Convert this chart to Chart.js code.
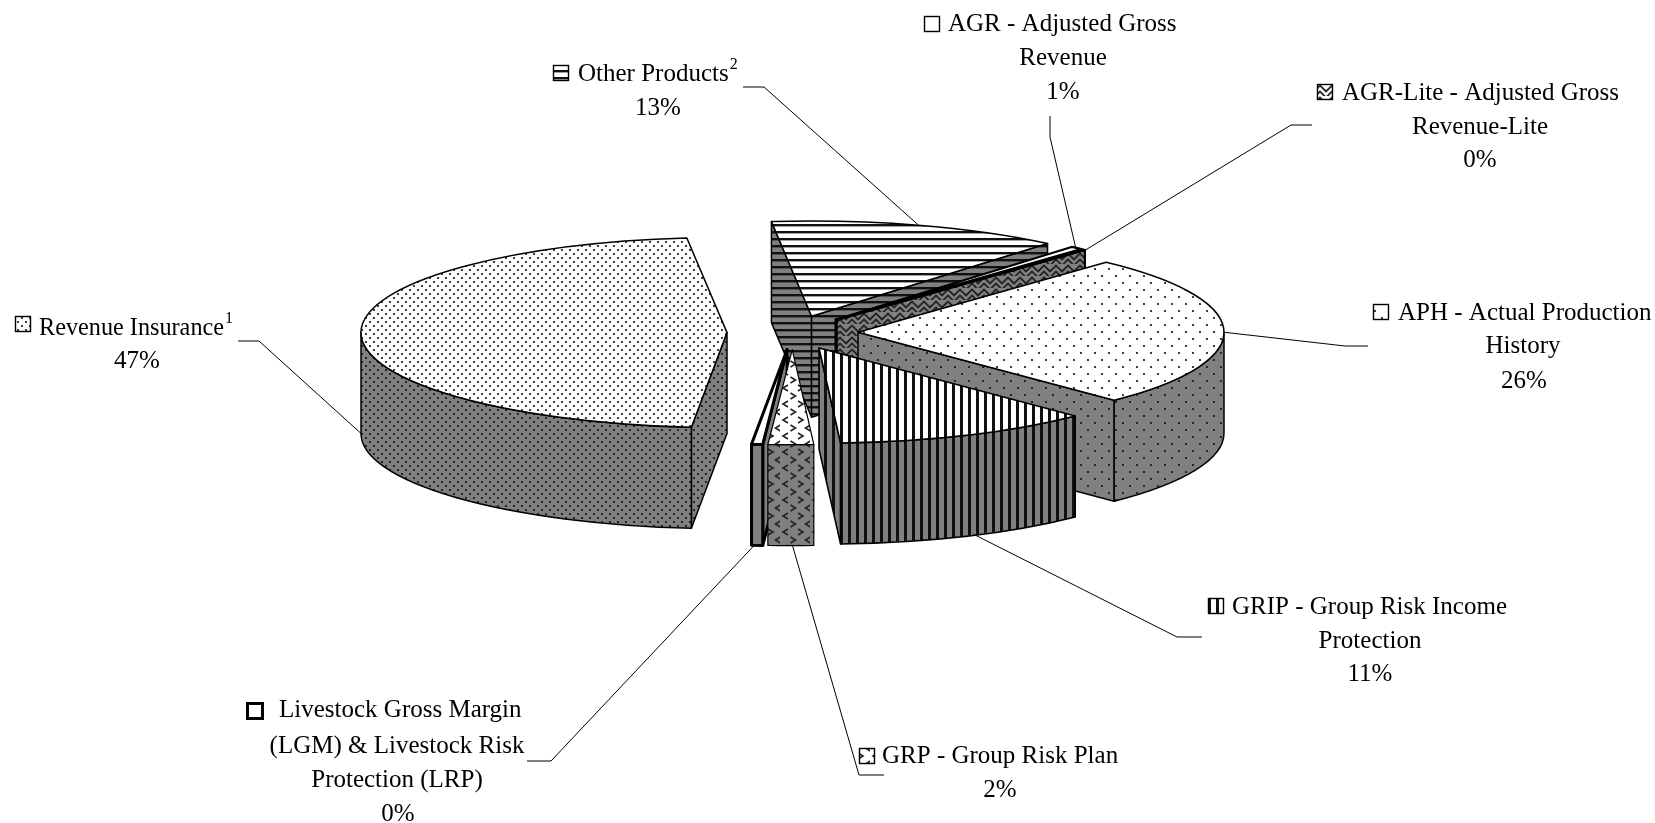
<!DOCTYPE html>
<html>
<head>
<meta charset="utf-8">
<title>Crop insurance plan shares</title>
<script src="https://cdn.jsdelivr.net/npm/chart.js@4/dist/chart.umd.js"></script>
<style>
  html, body { margin: 0; padding: 0; background: #fff; overflow: hidden; }
  canvas { display: block; }
</style>
</head>
<body>
<canvas id="pie" width="1655" height="823"></canvas>
<script>
// Slices, clockwise from the back edge of the APH slice.
const categories = ["APH", "GRIP", "GRP", "LGM", "Revenue Insurance", "Other Products", "AGR", "AGR-Lite"];
const sharePercents = [25.8, 11.4, 2.0, 0.49, 46.7, 12.9, 0.56, 0.15];
const shareLabels = ["26%", "11%", "2%", "0%", "47%", "13%", "1%", "0%"];
const patternKinds = ["sparseDots", "vStripes", "chevrons", "plain", "denseDots", "hStripes", "plain", "weave"];
const outlineWidths = [1.5, 1.6, 1.2, 3, 1.5, 1.5, 2.2, 2.2];

// Projection of the tilted pie.
const SQUASH = 0.26;
const DEPTH = 101;
const RADIUS = 366;
const EXPLODE = 65.5;
const WALL_GREY = "#808080";

// Caption layout: swatch and first line, then centred lines [text, centreX, baseline].
const captionLayouts = [
  { swatch: [1373, 304], textX: 1398, base: 320, first: "APH - Actual Production", more: [["History", 1523, 353]], pctAt: [1524, 388] },
  { swatch: [1208, 598], textX: 1232, base: 614, first: "GRIP - Group Risk Income", more: [["Protection", 1370, 648]], pctAt: [1370, 681] },
  { swatch: [859, 748], textX: 882, base: 763, first: "GRP - Group Risk Plan", more: [], pctAt: [1000, 797] },
  { swatch: [247, 703], textX: 279, base: 717, first: "Livestock Gross Margin", more: [["(LGM) & Livestock Risk", 397, 753], ["Protection (LRP)", 397, 787]], pctAt: [398, 821] },
  { swatch: [15, 316], textX: 39, base: 335, first: "Revenue Insurance", fit: 185, sup: "1", more: [], pctAt: [137, 368] },
  { swatch: [553, 65], textX: 578, base: 81, first: "Other Products", sup: "2", more: [], pctAt: [658, 115] },
  { swatch: [924, 16], textX: 948, base: 31, first: "AGR - Adjusted Gross", more: [["Revenue", 1063, 65]], pctAt: [1063, 99] },
  { swatch: [1317, 84], textX: 1342, base: 100, first: "AGR-Lite - Adjusted Gross", more: [["Revenue-Lite", 1480, 134]], pctAt: [1480, 167] }
];

// Leader lines: caption-side stub, then the rim angle (degrees) and drop on the slice they point to.
const leaderStubs = [
  [[1368, 346], [1345, 346]],
  [[1202, 637], [1177, 637]],
  [[884, 775], [859, 775]],
  [[527, 761], [551, 761]],
  [[238, 341], [259, 341]],
  [[743, 87], [764, 87]],
  [[1050, 116], [1050, 137]],
  [[1312, 125], [1291, 125]]
];
const leaderRimAngles = [0, 65, 90, 95, 176, 287, 311, 312.8];
const leaderRimDrops = [0, 100, 100, 100, 95, 0, 0, 0];

// Fill textures, each built once for the top face and once for the walls.
function makeTexture(kind, bg) {
  const sizes = { sparseDots: [14, 14], denseDots: [8, 8], vStripes: [8, 8], hStripes: [8, 7], chevrons: [30, 16], weave: [12, 12], plain: [4, 4] };
  const [w, h] = sizes[kind];
  const c = document.createElement("canvas");
  c.width = w; c.height = h;
  const g = c.getContext("2d");
  g.fillStyle = bg;
  g.fillRect(0, 0, w, h);
  g.fillStyle = "#111";
  g.strokeStyle = "#222";
  const dot = (x, y, r) => { g.beginPath(); g.arc(x, y, r, 0, 7); g.fill(); };
  if (kind === "sparseDots") { dot(3, 3, 1.1); dot(10, 10, 1.1); }
  if (kind === "denseDots") { dot(2, 2, 1.1); dot(6, 6, 1.1); }
  if (kind === "vStripes") { g.fillRect(0, 0, 3, h); }
  if (kind === "hStripes") { g.fillRect(0, 0, w, 2.4); }
  if (kind === "chevrons") {
    g.lineWidth = 1.6;
    const mark = (x, y, s) => { g.beginPath(); g.moveTo(x + 2.5 * s, y - 3); g.lineTo(x - 2.5 * s, y); g.lineTo(x + 2.5 * s, y + 3); g.stroke(); };
    mark(5.5, 4, 1); mark(20.5, 4, -1); mark(13, 12, -1); mark(28, 12, 1);
  }
  if (kind === "weave") {
    g.lineWidth = 1.8;
    for (const y of [4.5, 10.5]) {
      g.beginPath();
      g.moveTo(-3, y); g.lineTo(0, y - 3); g.lineTo(6, y + 3); g.lineTo(12, y - 3); g.lineTo(15, y);
      g.stroke();
    }
  }
  return g.createPattern(c, "repeat");
}
const topFills = patternKinds.map(k => makeTexture(k, "#fff"));
const wallFills = patternKinds.map(k => makeTexture(k, WALL_GREY));

// Where a slice's apex lands once it is pulled out along its mid angle.
function sliceApex(arc) {
  const mid = (arc.startAngle + arc.endAngle) / 2;
  const off = arc.options.offset;
  return { x: arc.x + Math.cos(mid) * off, y: arc.y + Math.sin(mid) * off * SQUASH };
}

function paintSlice(ctx, arc, i) {
  const a = sliceApex(arc);
  const R = arc.outerRadius, Ry = R * SQUASH;
  const s = arc.startAngle, e = arc.endAngle;
  const rim = t => ({ x: a.x + Math.cos(t) * R, y: a.y + Math.sin(t) * Ry });
  ctx.save();
  ctx.lineJoin = "round";
  ctx.strokeStyle = "#000";
  ctx.lineWidth = arc.options.borderWidth;
  const finish = fill => { ctx.fillStyle = fill; ctx.fill(); ctx.stroke(); };

  // Cut faces: the start face shows on the left half, the end face on the right.
  const cutFace = t => {
    const p = rim(t);
    ctx.beginPath();
    ctx.moveTo(a.x, a.y); ctx.lineTo(p.x, p.y);
    ctx.lineTo(p.x, p.y + DEPTH); ctx.lineTo(a.x, a.y + DEPTH);
    ctx.closePath();
    finish(wallFills[i]);
  };
  if (Math.cos(s) < 0) cutFace(s);
  if (Math.cos(e) > 0) cutFace(e);

  // Outer wall: only the part of the rim that faces the viewer.
  const lo = Math.max(s, 0), hi = Math.min(e, Math.PI);
  if (hi > lo) {
    ctx.beginPath();
    ctx.ellipse(a.x, a.y, R, Ry, 0, lo, hi);
    ctx.ellipse(a.x, a.y + DEPTH, R, Ry, 0, hi, lo, true);
    ctx.closePath();
    finish(wallFills[i]);
  }

  // Top face.
  ctx.beginPath();
  ctx.moveTo(a.x, a.y);
  ctx.ellipse(a.x, a.y, R, Ry, 0, s, e);
  ctx.closePath();
  finish(arc.options.backgroundColor);
  ctx.restore();
}

// Doughnut layout, painted as an extruded pie from back to front.
class ExtrudedPieController extends Chart.DoughnutController {
  draw() {
    const arcs = this._cachedMeta.data;
    const depthOf = arc => Math.sin((arc.startAngle + arc.endAngle) / 2);
    arcs.map((arc, i) => [arc, i])
      .sort((p, q) => depthOf(p[0]) - depthOf(q[0]))
      .forEach(([arc, i]) => paintSlice(this.chart.ctx, arc, i));
  }
}
ExtrudedPieController.id = "extrudedPie";
Chart.register(ExtrudedPieController);

const FONT = '"Liberation Serif", "Times New Roman", serif';

const captionsPlugin = {
  id: "captions",
  afterDraw(chart) {
    const ctx = chart.ctx;
    const arcs = chart.getDatasetMeta(0).data;
    ctx.save();
    // Leader lines from caption to slice.
    ctx.strokeStyle = "#000";
    ctx.lineWidth = 1;
    arcs.forEach((arc, i) => {
      const a = sliceApex(arc);
      const t = leaderRimAngles[i] * Math.PI / 180;
      const [p0, p1] = leaderStubs[i];
      ctx.beginPath();
      ctx.moveTo(p0[0], p0[1]);
      ctx.lineTo(p1[0], p1[1]);
      ctx.lineTo(a.x + Math.cos(t) * arc.outerRadius,
                 a.y + Math.sin(t) * arc.outerRadius * SQUASH + leaderRimDrops[i]);
      ctx.stroke();
    });
    // Captions with their swatches.
    ctx.textBaseline = "alphabetic";
    captionLayouts.forEach((c, i) => {
      const size = 16;
      ctx.fillStyle = topFills[i];
      ctx.fillRect(c.swatch[0], c.swatch[1], size, size);
      ctx.strokeStyle = "#000";
      ctx.lineWidth = i === 3 ? 3 : 1.4;
      ctx.strokeRect(c.swatch[0] + 0.5, c.swatch[1] + 0.5, size - 1, size - 1);
      ctx.fillStyle = "#000";
      ctx.font = "25px " + FONT;
      ctx.textAlign = "left";
      const measured = ctx.measureText(c.first).width;
      const drawnWidth = c.fit ? Math.min(c.fit, measured) : measured;
      ctx.fillText(c.first, c.textX, c.base, drawnWidth);
      if (c.sup) {
        ctx.font = "16px " + FONT;
        ctx.fillText(c.sup, c.textX + drawnWidth + 1, c.base - 12);
        ctx.font = "25px " + FONT;
      }
      ctx.textAlign = "center";
      c.more.forEach(([text, x, y]) => ctx.fillText(text, x, y));
      ctx.fillText(shareLabels[i], c.pctAt[0], c.pctAt[1]);
    });
    ctx.restore();
  }
};

new Chart(document.getElementById("pie"), {
  type: "extrudedPie",
  data: {
    labels: categories,
    datasets: [{
      data: sharePercents,
      backgroundColor: topFills,
      borderColor: "#000",
      borderWidth: outlineWidths,
      offset: EXPLODE,
      radius: RADIUS
    }]
  },
  options: {
    responsive: false,
    animation: false,
    events: [],
    rotation: 42.7,
    layout: { padding: { left: 0, right: 70, top: 0, bottom: 158 } },
    plugins: { legend: { display: false }, tooltip: { enabled: false } }
  },
  plugins: [captionsPlugin]
});
</script>
</body>
</html>
